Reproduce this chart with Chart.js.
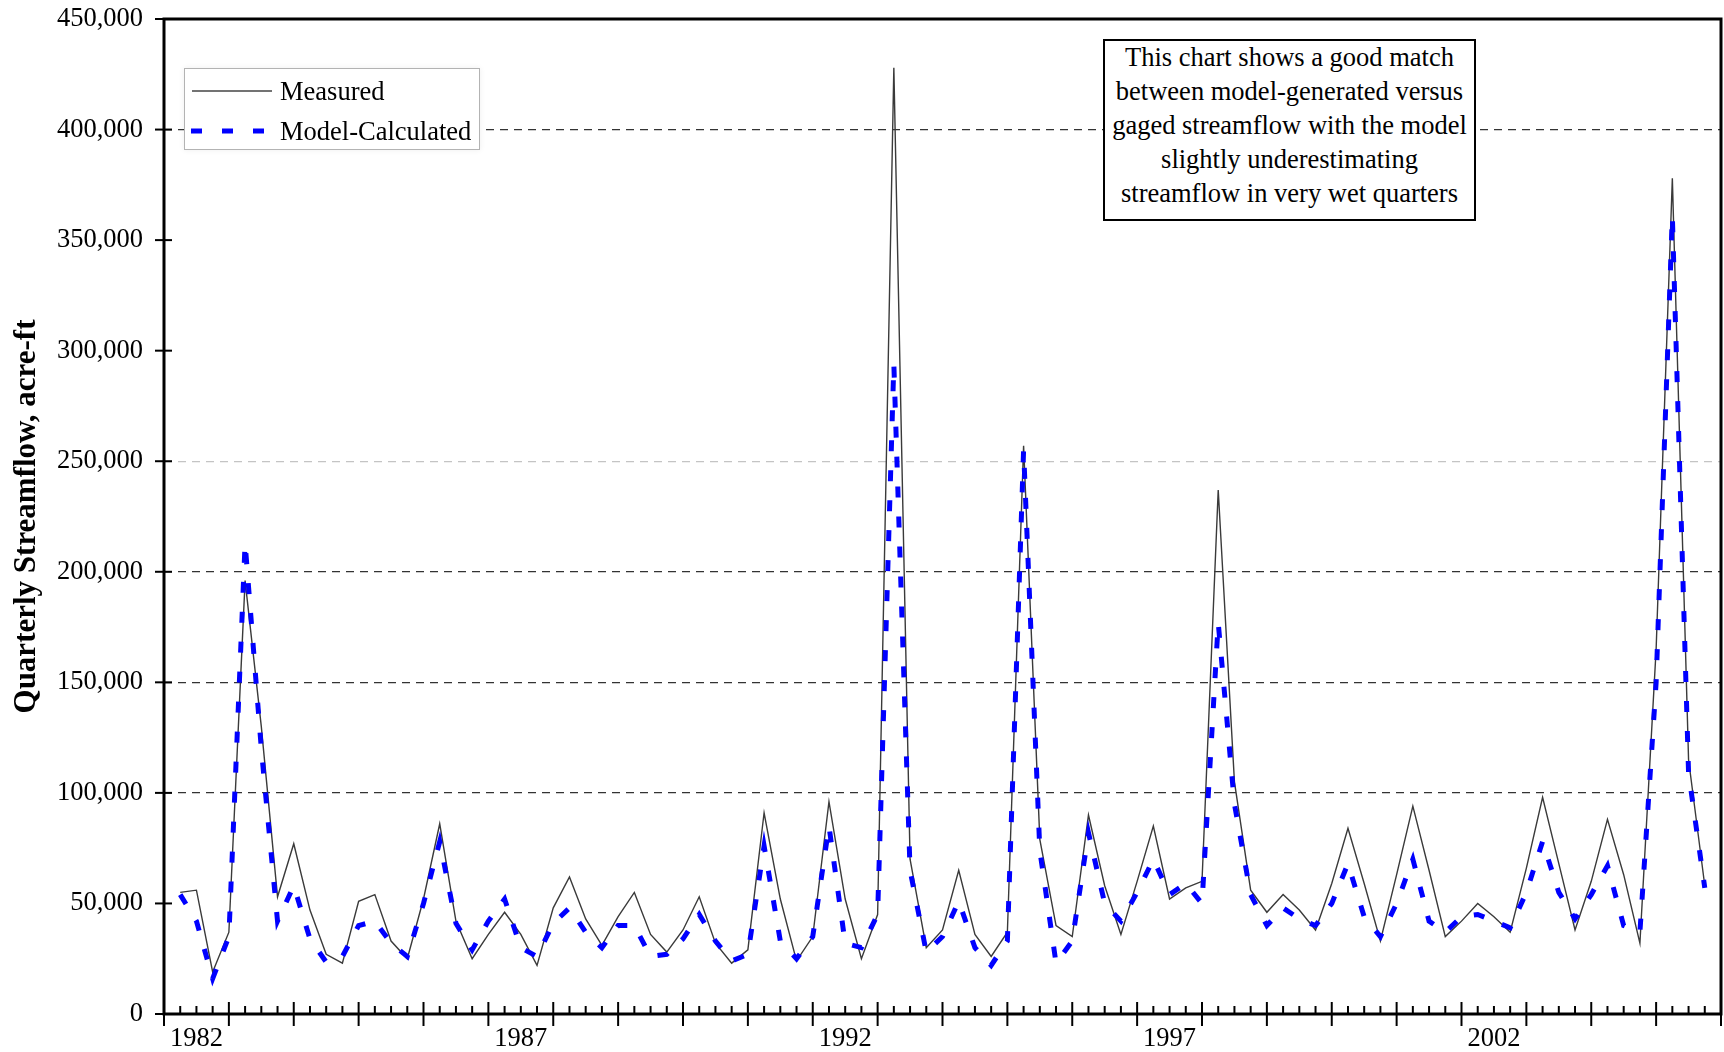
<!DOCTYPE html>
<html>
<head>
<meta charset="utf-8">
<title>Quarterly Streamflow — Measured vs Model-Calculated</title>
<script src="https://cdn.jsdelivr.net/npm/chart.js@4.4.1/dist/chart.umd.min.js"></script>
<style>
  html, body { margin: 0; padding: 0; background: #fff; }
  #wrap {
    position: relative; width: 1724px; height: 1052px;
    font-family: "Times New Roman", "Liberation Serif", serif; color: #000;
  }
  #chart { position: absolute; left: 0; top: 0; }

  /* legend box (top left of plot) */
  .legend {
    position: absolute; left: 184px; top: 68px; width: 296px; height: 82px;
    box-sizing: border-box; border: 1.5px solid #b3b3b3; background: #fff;
    box-shadow: 0 0 6px rgba(0,0,0,0.07); font-size: 26.5px;
  }
  .legend-row { position: absolute; left: 0; width: 100%; height: 30px; line-height: 30px; white-space: nowrap; }
  .legend-row svg { position: absolute; left: 6px; top: 0; }
  .legend-row span { position: absolute; left: 95px; top: 0; }

  /* annotation box (top right of plot) */
  .note {
    position: absolute; left: 1103px; top: 39px; width: 373px; height: 182px;
    box-sizing: border-box; border: 2px solid #000; background: #fff;
    font-size: 26.5px; line-height: 34px; text-align: center;
  }
  .note div { position: relative; top: -1px; }
</style>
</head>
<body>
<div id="wrap">
  <canvas id="chart" width="1724" height="1052"></canvas>

  <div class="legend">
    <div class="legend-row" style="top:7px">
      <svg width="82" height="30"><line x1="1" y1="15" x2="81" y2="15" stroke="#444" stroke-width="1.4"/></svg>
      <span>Measured</span>
    </div>
    <div class="legend-row" style="top:47px">
      <svg width="82" height="30"><line x1="0" y1="15" x2="74" y2="15" stroke="#0000ff" stroke-width="5" stroke-dasharray="11 20"/></svg>
      <span>Model-Calculated</span>
    </div>
  </div>

  <div class="note"><div>
    This chart shows a good match<br>
    between model-generated versus<br>
    gaged streamflow with the model<br>
    slightly underestimating<br>
    streamflow in very wet quarters
  </div></div>
</div>

<script>
/* ================================================
   DATA — quarterly streamflow, acre-ft, 1982 Q1 onward
================================================ */

const FIRST_YEAR = 1982;

const yearLabels = ['1982', '1987', '1992', '1997', '2002'];

const measured = [
   55000,  56000,  19000,  37000, 196000, 130000,  53000,  77000,
   47000,  27000,  23000,  51000,  54000,  33000,  25000,  52000,
   86000,  42000,  25000,  36000,  46000,  36000,  22000,  48000,
   62000,  43000,  31000,  44000,  55000,  36000,  28000,  38000,
   53000,  32000,  23000,  29000,  91000,  52000,  24000,  35000,
   96000,  52000,  25000,  45000, 428000,  70000,  30000,  38000,
   65000,  36000,  26000,  37000, 257000,  79000,  40000,  35000,
   90000,  58000,  36000,  60000,  85000,  52000,  57000,  60000,
  237000, 105000,  56000,  46000,  54000,  47000,  38000,  59000,
   84000,  59000,  33000,  63000,  94000,  65000,  35000,  42000,
   50000,  44000,  37000,  66000,  98000,  68000,  38000,  60000,
   88000,  63000,  32000, 165000, 378000, 115000,  58000,
];

const modelCalculated = [
   54000,  42000,  16000,  35000, 213000, 120000,  42000,  58000,
   34000,  23500,  26000,  40000,  42000,  32000,  26000,  50000,
   78000,  41000,  29000,  42000,  52000,  30000,  26000,  41000,
   48000,  37000,  30000,  40000,  40000,  26000,  27000,  34000,
   45000,  33000,  24000,  27000,  76000,  33000,  25000,  35000,
   85000,  32000,  30000,  45000, 294000,  65000,  28000,  35000,
   51000,  30000,  22000,  33000, 255000,  74000,  23000,  33000,
   82000,  50000,  42000,  55000,  70000,  54000,  59000,  50000,
  177000,  95000,  54000,  40000,  48000,  43000,  40000,  50000,
   68000,  44000,  35000,  50000,  70000,  42000,  37000,  44000,
   45000,  42000,  39000,  55000,  78000,  55000,  43000,  54000,
   67000,  40000,  37000, 150000, 361000, 109000,  57000,
];

/* ================================================
   STYLE
================================================ */

const FONT_FAMILY = '"Times New Roman", "Liberation Serif", serif';
const QUARTERS    = measured.length + 1;   // axis runs one quarter past last point

function gridColor(value) {
  if (value === 250000) return '#c4c4c4';
  if ([100000, 150000, 200000, 400000].includes(value)) return '#333';
  return 'rgba(0,0,0,0)';
}

/* quarter ticks, year ticks, y ticks and the plot frame */
const frameAndTicks = {
  id: 'frameAndTicks',
  afterDraw(chart) {
    const { ctx, chartArea: a, scales: { x, y } } = chart;
    ctx.save();
    ctx.strokeStyle = '#000';
    ctx.lineWidth   = 2;

    for (let q = 0; q <= QUARTERS; q++) {
      const px    = x.getPixelForValue(q);
      const major = q % 4 === 0;
      ctx.beginPath();
      ctx.moveTo(px, a.bottom - (major ? 12 : 8));
      ctx.lineTo(px, a.bottom + (major ? 12 : 0));
      ctx.stroke();
    }

    y.ticks.forEach(t => {
      const py = y.getPixelForValue(t.value);
      ctx.beginPath();
      ctx.moveTo(a.left - 9, py);
      ctx.lineTo(a.left + 8, py);
      ctx.stroke();
    });

    ctx.lineWidth = 3;
    ctx.strokeRect(a.left, a.top, a.right - a.left, a.bottom - a.top);
    ctx.restore();
  },
};

/* ================================================
   CHART
================================================ */

function buildStreamflowChart(canvasId) {
  const canvas = document.getElementById(canvasId);
  if (!canvas) return;

  const toPoints = arr => arr.map((v, i) => ({ x: i + 1, y: v }));

  return new Chart(canvas.getContext('2d'), {
    type: 'line',
    data: {
      datasets: [
        {
          label:       'Model-Calculated',
          data:        toPoints(modelCalculated),
          borderColor: '#0000ff',
          borderWidth: 5,
          borderDash:  [11, 19],
          pointRadius: 0,
          tension:     0,
          order:       0,
        },
        {
          label:       'Measured',
          data:        toPoints(measured),
          borderColor: '#3a3a3a',
          borderWidth: 1.4,
          pointRadius: 0,
          tension:     0,
          order:       1,
        },
      ],
    },
    options: {
      responsive: false,
      animation:  false,
      events:     [],
      layout: { padding: { top: 19, right: 3, left: 0, bottom: 0 } },
      plugins: {
        legend:  { display: false },
        tooltip: { enabled: false },
      },
      scales: {
        x: {
          type: 'linear',
          min:  0,
          max:  QUARTERS,
          afterFit: s => { s.height = 38; s.paddingLeft = 0; s.paddingRight = 0; },
          afterBuildTicks: s => {
            s.ticks = yearLabels.map(yr => ({ value: (Number(yr) - FIRST_YEAR) * 4 + 2 }));
          },
          ticks: {
            autoSkip: false, maxRotation: 0, padding: 9,
            color: '#000', font: { family: FONT_FAMILY, size: 26.5 },
            callback: v => String(FIRST_YEAR + (v - 2) / 4),
          },
          grid:   { display: false, drawTicks: false },
          border: { display: false },
        },
        y: {
          min: 0,
          max: 450000,
          afterFit: s => { s.width = 164; s.paddingTop = 0; s.paddingBottom = 0; },
          ticks: {
            stepSize: 50000, padding: 21,
            color: '#000', font: { family: FONT_FAMILY, size: 26.5 },
            callback: v => v.toLocaleString('en-US'),
          },
          grid: {
            drawTicks: false,
            lineWidth: 1.3,
            color: ctx => gridColor(ctx.tick ? ctx.tick.value : -1),
          },
          border: { display: false, dash: [8, 6] },
          title: {
            display: true,
            text:    'Quarterly Streamflow, acre-ft',
            color:   '#000',
            font:    { family: FONT_FAMILY, size: 31, weight: 'bold' },
            padding: { top: 8, bottom: 0 },
          },
        },
      },
    },
    plugins: [frameAndTicks],
  });
}

buildStreamflowChart('chart');
</script>
</body>
</html>
